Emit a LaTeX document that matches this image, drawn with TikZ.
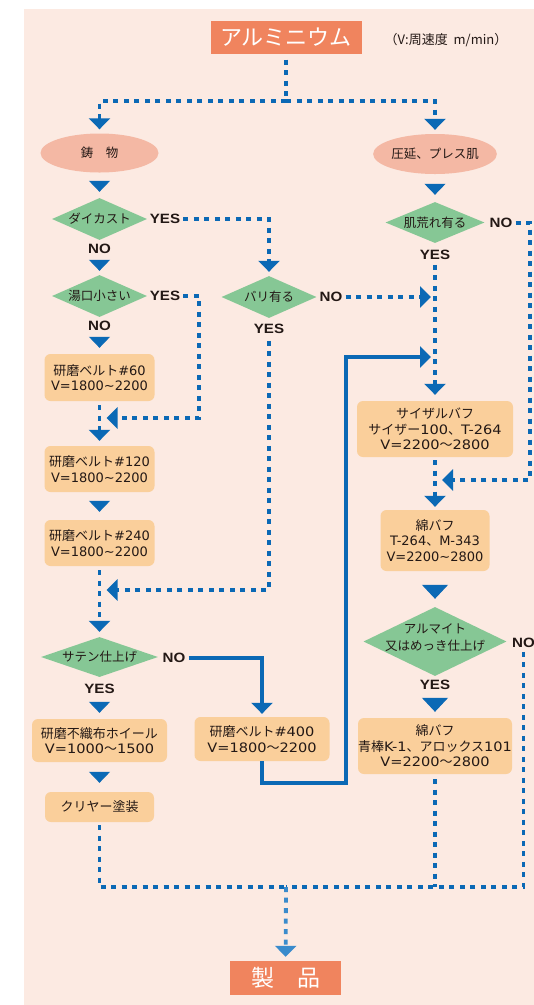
\documentclass[tikz,border=0pt]{standalone}
\usepackage{fontspec}
\usetikzlibrary{shapes.geometric,arrows.meta,calc}
\newfontfamily\jpn{Noto Sans CJK JP}
\newfontfamily\latn{DejaVu Sans}
\newfontfamily\latw[FakeStretch=1.12]{DejaVu Sans}
\newfontfamily\ynf[FakeStretch=1.12]{Liberation Sans}
\definecolor{bgpink}{HTML}{FCEAE2}
\definecolor{ttl}{HTML}{F0845E}
\definecolor{ell}{HTML}{F4B8A4}
\definecolor{grn}{HTML}{86C795}
\definecolor{bx}{HTML}{FACF9B}
\definecolor{blu}{HTML}{0B69B5}
\definecolor{lblu}{HTML}{3A8BCC}
\definecolor{ink}{HTML}{231815}
\newcommand\lt{}
\newcommand\oneline[1]{\makebox[0pt]{\smash{\raisebox{-0.38em}{#1}}}}
\newcommand\twoline[1]{\makebox[0pt]{\smash{\begin{tabular}{@{}c@{}}#1\end{tabular}}}}
\begin{document}
\begin{tikzpicture}[x=1pt,y=-1pt,
  ttlbox/.style={fill=ttl, text=white, inner sep=0pt, font=\jpn\fontsize{22}{24}\selectfont},
  ellnode/.style={ellipse, fill=ell, inner sep=0pt, text=ink, font=\jpn\fontsize{12.5}{15}\selectfont},
  dia/.style={diamond, fill=grn, inner sep=0pt, text=ink, font=\jpn\fontsize{12.5}{16.5}\selectfont},
  proc/.style={rectangle, rounded corners=6pt, fill=bx, inner sep=0pt, text=ink, align=center,
    font=\jpn\let\lt\latn\fontsize{13}{15.5}\selectfont},
  procw/.style={proc, font=\jpn\let\lt\latw\fontsize{13}{15.5}\selectfont},
  yn/.style={text=ink, inner sep=1pt, font=\ynf\bfseries\fontsize{13.5}{15}\selectfont},
  note/.style={text=ink, inner sep=0pt, font=\jpn\fontsize{13}{15}\selectfont},
  dot/.style={draw=blu, line width=3.8pt, dash pattern=on 5pt off 5.5pt},
  sol/.style={draw=blu, line width=3.2pt},
  tipS/.style={-{Triangle[length=11pt,width=21pt]}},
  tipB/.style={-{Triangle[length=14pt,width=26pt]}},
  tiponly/.style={draw=blu, line width=1pt, dash pattern=on 0pt off 400pt}
]
\useasboundingbox (0,0) rectangle (534,1005);
\fill[bgpink] (24,9) rectangle (534,1005);

% nodes
\node[ttlbox, minimum width=151pt, minimum height=33pt] (title) at (286,37) {アルミニウム};
\node[note] (unit) at (446,40) {（V:周速度\ \ m/min）};
\node[ellnode, minimum width=118pt, minimum height=39pt] (cast) at (99.5,153) {鋳　物};
\node[ellnode, minimum width=119pt, minimum height=40pt] (roll) at (435,154) {圧延、プレス肌};

\node[dia, minimum width=95pt, minimum height=42pt] (d1) at (99.5,219) {\oneline{ダイカスト}};
\node[yn] (yes1) at (165,219) {YES};
\node[yn] (no1) at (99.5,249) {NO};
\node[dia, minimum width=95pt, minimum height=42pt] (d2) at (99.5,296) {\oneline{湯口小さい}};
\node[yn] (yes2) at (165,296) {YES};
\node[yn] (no2) at (99.5,326) {NO};
\node[proc, minimum width=110pt, minimum height=47pt] (b60) at (99.5,377.5) {研磨ベルト{\lt\#60}\\{\lt V=1800\textasciitilde2200}};
\node[proc, minimum width=110pt, minimum height=46pt] (b120) at (99.5,469) {研磨ベルト{\lt\#120}\\{\lt V=1800\textasciitilde2200}};
\node[proc, minimum width=110pt, minimum height=46pt] (b240) at (99.5,543) {研磨ベルト{\lt\#240}\\{\lt V=1800\textasciitilde2200}};

\node[dia, minimum width=95pt, minimum height=42pt] (d3) at (269,297) {\oneline{バリ有る}};
\node[yn] (no3) at (331,297) {NO};
\node[yn] (yes3) at (269,329) {YES};

\node[dia, minimum width=117pt, minimum height=40pt] (d4) at (99.5,657) {\oneline{サテン仕上げ}};
\node[yn] (no4) at (174,658) {NO};
\node[yn] (yes4) at (99.5,689) {YES};
\node[procw, minimum width=135pt, minimum height=43pt] (bfuku) at (99.5,740.5) {研磨不織布ホイール\\{\lt V=1000}～{\lt 1500}};
\node[proc, minimum width=109pt, minimum height=30pt] (clear) at (99.5,807) {クリヤー塗装};
\node[procw, minimum width=135pt, minimum height=44pt] (b400) at (262,739) {研磨ベルト{\lt\#400}\\{\lt V=1800}～{\lt 2200}};

\node[dia, minimum width=99pt, minimum height=41pt] (d5) at (435,222.5) {\oneline{肌荒れ有る}};
\node[yn] (no5) at (501,223) {NO};
\node[yn] (yes5) at (435,255) {YES};
\node[procw, minimum width=156pt, minimum height=56pt] (sisal) at (435,429) {サイザルバフ\\サイザー{\lt 100}、{\lt T-264}\\{\lt V=2200}～{\lt 2800}};
\node[proc, minimum width=109pt, minimum height=61pt] (men1) at (435,540.5) {綿バフ\\{\lt T-264}、{\lt M-343}\\{\lt V=2200\textasciitilde2800}};
\node[dia, minimum width=143pt, minimum height=69pt] (d6) at (435,641.5) {\twoline{アルマイト\\又はめっき仕上げ}};
\node[yn, anchor=west] (no6) at (511,643) {NO};
\node[yn] (yes6) at (435,685) {YES};
\node[procw, minimum width=154pt, minimum height=56pt] (men2) at (435,746) {綿バフ\\青棒{\lt K-1}、アロックス{\lt 101}\\{\lt V=2200}～{\lt 2800}};

\node[ttlbox, minimum width=111pt, minimum height=34pt, font=\jpn\fontsize{23}{25}\selectfont] (product) at (285.5,978) {製　品};

% junctions
\coordinate (top) at (286,101);
\coordinate (j1) at (99.5,418);
\coordinate (j2) at (99.5,590);
\coordinate (j3) at (435,297);
\coordinate (j4) at (435,357);
\coordinate (j5) at (435,480);
\coordinate (bot) at (286,887);

% connectors
\draw[dot, shorten <=6pt] (title) -- (top);
\draw[dot, tipS, shorten >=4pt] (top) -| (cast);
\draw[dot, tipS, shorten >=4pt] (top) -| (roll);
\draw[tiponly, tipS, shorten >=6pt] (cast) -- (d1);
\draw[tiponly, tipS, shorten >=7pt] (roll) -- (d5);

\draw[dot, tipS, shorten <=2pt, shorten >=4pt] (yes1) -| (d3);
\draw[tiponly, tipS, shorten >=4pt] (no1) -- (d2);
\draw[dot, tipS, shorten <=2pt, shorten >=7pt] (yes2) -- (199,296) |- (j1);
\draw[tiponly, tipS, shorten >=6pt] (no2) -- (b60);
\draw[dot, tipS, shorten <=4pt, shorten >=5pt] (b60) -- (b120);
\draw[tiponly, tipS, shorten >=8pt] (b120) -- (b240);
\draw[dot, tipS, shorten <=4pt, shorten >=5pt] (b240) -- (d4);
\draw[dot, tipS, shorten <=6pt, shorten >=7pt] (yes3) |- (j2);
\draw[dot, tipS, shorten <=2pt, shorten >=4pt] (no3) -- (j3);

\draw[sol, tipS, shorten <=2pt, shorten >=3pt] (no4) -| (b400);
\draw[sol, tipS, shorten >=4pt] (b400) |- (346,783) |- (j4);
\draw[tiponly, tipS, shorten >=6pt] (yes4) -- (bfuku);
\draw[tiponly, tipS, shorten >=9pt] (bfuku) -- (clear);

\draw[dot, tipS, shorten <=2pt, shorten >=7pt] (no5) -- (530,223) |- (j5);
\draw[dot, tipS, shorten <=4pt, shorten >=6pt] (yes5) -- (sisal);
\draw[dot, tipS, shorten <=3pt, shorten >=3pt] (sisal) -- (men1);
\draw[tiponly, tipB, shorten >=8pt] (men1) -- (d6);
\draw[tiponly, tipB, shorten >=6pt] (yes6) -- (men2);

\draw[dot, shorten <=3pt] (clear) |- (bot);
\draw[dot, shorten <=5pt] (men2) -- (men2 |- bot);
\draw[dot, shorten <=3pt] (no6.south) |- (bot);
\draw[dot, draw=lblu, tipS, shorten >=4pt] (bot) -- (product);
\end{tikzpicture}
\end{document}
